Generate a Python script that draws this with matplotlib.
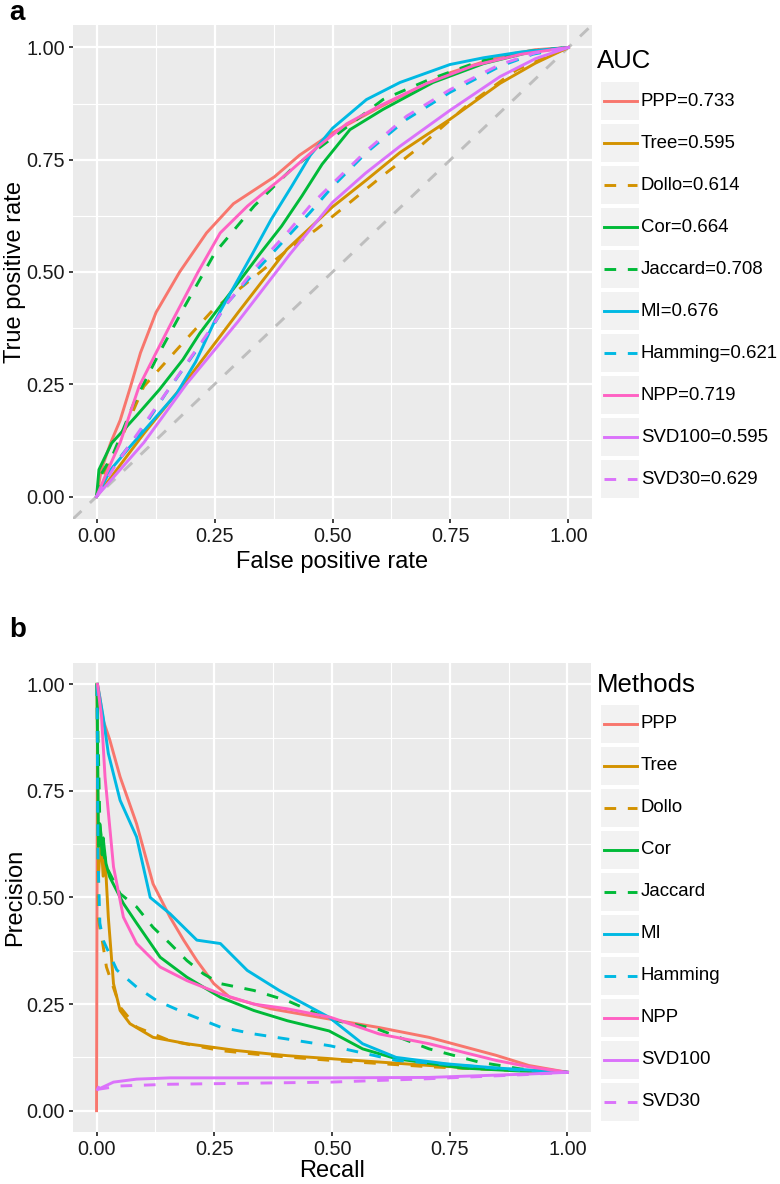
import matplotlib
matplotlib.use("Agg")
import matplotlib.pyplot as plt
from matplotlib.patches import Rectangle

plt.rcParams["font.family"] = ["Liberation Sans", "DejaVu Sans"]

# ---- methods / styles ----
METHODS = ["PPP", "Tree", "Dollo", "Cor", "Jaccard", "MI", "Hamming", "NPP", "SVD100", "SVD30"]
AUC = ["0.733", "0.595", "0.614", "0.664", "0.708", "0.676", "0.621", "0.719", "0.595", "0.629"]
COLORS = ["#F8766D", "#D39200", "#D39200", "#00BA38", "#00BA38",
          "#00B9E3", "#00B9E3", "#FF61C3", "#DB72FB", "#DB72FB"]
DASHED = [False, False, True, False, True, False, True, False, False, True]

# ---- ROC curves ----
PPP_FPR = [0, 0.01, 0.03, 0.05, 0.072, 0.093, 0.126, 0.176, 0.233, 0.29, 0.377, 0.43, 0.5, 0.6, 0.643, 0.75, 0.855, 0.93, 1]
PPP_TPR = [0, 0.06, 0.12, 0.17, 0.245, 0.32, 0.41, 0.50, 0.587, 0.652, 0.712, 0.76, 0.81, 0.867, 0.89, 0.944, 0.98, 0.995, 1]
TREE_FPR = [0, 0.05, 0.1, 0.185, 0.3, 0.403, 0.5, 0.572, 0.643, 0.749, 0.855, 0.93, 1]
TREE_TPR = [0, 0.07, 0.14, 0.25, 0.41, 0.55, 0.645, 0.705, 0.766, 0.84, 0.92, 0.965, 1]
DOLLO_FPR = [0, 0.02, 0.04, 0.1, 0.17, 0.247, 0.3, 0.4, 0.466, 0.537, 0.607, 0.678, 0.784, 0.89, 1]
DOLLO_TPR = [0, 0.06, 0.10, 0.245, 0.327, 0.416, 0.46, 0.545, 0.595, 0.655, 0.715, 0.773, 0.87, 0.95, 1]
COR_FPR = [0, 0.005, 0.032, 0.083, 0.133, 0.183, 0.219, 0.262, 0.305, 0.348, 0.392, 0.435, 0.478, 0.537, 0.607, 0.713, 0.82, 0.92, 1]
COR_TPR = [0, 0.06, 0.119, 0.178, 0.238, 0.305, 0.364, 0.424, 0.483, 0.543, 0.602, 0.669, 0.74, 0.817, 0.862, 0.922, 0.964, 0.99, 1]
JAC_FPR = [0, 0.01, 0.036, 0.079, 0.133, 0.187, 0.251, 0.334, 0.413, 0.47, 0.523, 0.607, 0.706, 0.812, 0.9, 1]
JAC_TPR = [0, 0.05, 0.097, 0.208, 0.32, 0.424, 0.543, 0.647, 0.729, 0.775, 0.817, 0.884, 0.929, 0.969, 0.99, 1]
MI_FPR = [0, 0.03, 0.07, 0.12, 0.17, 0.21, 0.25, 0.29, 0.33, 0.37, 0.413, 0.453, 0.5, 0.572, 0.643, 0.749, 0.82, 0.9, 1]
MI_TPR = [0, 0.06, 0.11, 0.17, 0.23, 0.30, 0.39, 0.465, 0.54, 0.617, 0.69, 0.76, 0.82, 0.884, 0.922, 0.962, 0.977, 0.99, 1]
HAM_FPR = [0, 0.04, 0.1, 0.147, 0.233, 0.277, 0.341, 0.406, 0.452, 0.5, 0.572, 0.657, 0.749, 0.855, 0.925, 1]
HAM_TPR = [0, 0.074, 0.155, 0.23, 0.357, 0.431, 0.506, 0.58, 0.632, 0.69, 0.766, 0.84, 0.9, 0.958, 0.985, 1]
NPP_FPR = [0, 0.02, 0.05, 0.09, 0.126, 0.162, 0.215, 0.262, 0.32, 0.405, 0.47, 0.53, 0.6, 0.7, 0.8, 0.9, 1]
NPP_TPR = [0, 0.05, 0.12, 0.245, 0.32, 0.394, 0.50, 0.587, 0.647, 0.72, 0.78, 0.83, 0.87, 0.92, 0.96, 0.985, 1]
SVD100_FPR = [0, 0.05, 0.1, 0.19, 0.3, 0.41, 0.5, 0.57, 0.643, 0.749, 0.855, 0.93, 1]
SVD100_TPR = [0, 0.06, 0.12, 0.25, 0.39, 0.54, 0.655, 0.72, 0.78, 0.86, 0.935, 0.975, 1]
SVD30_FPR = [0, 0.04, 0.1, 0.15, 0.233, 0.277, 0.341, 0.406, 0.452, 0.5, 0.572, 0.657, 0.749, 0.855, 0.93, 1]
SVD30_TPR = [0, 0.07, 0.16, 0.235, 0.36, 0.43, 0.515, 0.59, 0.647, 0.697, 0.77, 0.847, 0.906, 0.962, 0.988, 1]

# ---- precision-recall curves ----
PPP_REC = [0, 0.002, 0.007, 0.014, 0.028, 0.05, 0.085, 0.12, 0.156, 0.185, 0.213, 0.249, 0.283, 0.37, 0.494, 0.6, 0.706, 0.848, 0.918, 1]
PPP_PREC = [0, 1.0, 0.97, 0.916, 0.87, 0.783, 0.673, 0.532, 0.454, 0.40, 0.352, 0.298, 0.266, 0.239, 0.215, 0.195, 0.172, 0.13, 0.106, 0.09]
TREE_REC = [0.001, 0.004, 0.008, 0.011, 0.014, 0.018, 0.025, 0.036, 0.05, 0.071, 0.12, 0.192, 0.298, 0.405, 0.497, 0.706, 0.85, 1]
TREE_PREC = [1.0, 0.55, 0.62, 0.61, 0.55, 0.595, 0.454, 0.298, 0.235, 0.204, 0.172, 0.157, 0.141, 0.129, 0.122, 0.106, 0.097, 0.09]
DOLLO_REC = [0.001, 0.004, 0.007, 0.012, 0.021, 0.05, 0.085, 0.156, 0.263, 0.369, 0.497, 0.706, 0.85, 1]
DOLLO_PREC = [1.0, 0.45, 0.43, 0.40, 0.337, 0.243, 0.196, 0.164, 0.141, 0.129, 0.118, 0.103, 0.096, 0.09]
COR_REC = [0.001, 0.004, 0.007, 0.012, 0.014, 0.02, 0.028, 0.057, 0.085, 0.135, 0.192, 0.263, 0.334, 0.405, 0.494, 0.565, 0.636, 0.777, 0.9, 1]
COR_PREC = [1.0, 0.62, 0.673, 0.6, 0.64, 0.58, 0.548, 0.486, 0.44, 0.36, 0.313, 0.266, 0.235, 0.211, 0.187, 0.145, 0.122, 0.10, 0.093, 0.09]
JAC_REC = [0.001, 0.007, 0.012, 0.021, 0.05, 0.085, 0.12, 0.156, 0.192, 0.227, 0.263, 0.334, 0.405, 0.494, 0.6, 0.706, 0.812, 0.9, 1]
JAC_PREC = [1.0, 0.673, 0.62, 0.572, 0.509, 0.478, 0.43, 0.392, 0.352, 0.321, 0.298, 0.282, 0.258, 0.215, 0.19, 0.145, 0.114, 0.098, 0.09]
MI_REC = [0.002, 0.014, 0.025, 0.05, 0.085, 0.114, 0.156, 0.213, 0.263, 0.32, 0.388, 0.494, 0.565, 0.636, 0.742, 0.85, 1]
MI_PREC = [1.0, 0.924, 0.838, 0.728, 0.642, 0.50, 0.462, 0.40, 0.392, 0.329, 0.282, 0.219, 0.157, 0.125, 0.11, 0.10, 0.09]
HAM_REC = [0.001, 0.003, 0.007, 0.014, 0.043, 0.085, 0.128, 0.192, 0.263, 0.334, 0.405, 0.497, 0.636, 0.777, 0.9, 1]
HAM_PREC = [1.0, 0.6, 0.44, 0.40, 0.33, 0.29, 0.258, 0.227, 0.196, 0.18, 0.168, 0.152, 0.118, 0.106, 0.095, 0.09]
NPP_REC = [0.002, 0.0106, 0.018, 0.036, 0.057, 0.085, 0.135, 0.192, 0.263, 0.334, 0.405, 0.497, 0.6, 0.706, 0.848, 0.918, 1]
NPP_PREC = [1.0, 0.924, 0.783, 0.572, 0.454, 0.392, 0.337, 0.305, 0.274, 0.25, 0.239, 0.219, 0.18, 0.157, 0.118, 0.103, 0.09]
SVD100_REC = [0.002, 0.004, 0.007, 0.036, 0.085, 0.156, 0.298, 0.497, 0.706, 0.918, 1]
SVD100_PREC = [0.05, 0.055, 0.052, 0.067, 0.074, 0.077, 0.077, 0.077, 0.078, 0.086, 0.09]
SVD30_REC = [0.002, 0.05, 0.156, 0.298, 0.497, 0.706, 0.918, 1]
SVD30_PREC = [0.05, 0.058, 0.062, 0.064, 0.067, 0.075, 0.085, 0.09]

ROC = [(PPP_FPR, PPP_TPR), (TREE_FPR, TREE_TPR), (DOLLO_FPR, DOLLO_TPR), (COR_FPR, COR_TPR),
       (JAC_FPR, JAC_TPR), (MI_FPR, MI_TPR), (HAM_FPR, HAM_TPR), (NPP_FPR, NPP_TPR),
       (SVD100_FPR, SVD100_TPR), (SVD30_FPR, SVD30_TPR)]
PR = [(PPP_REC, PPP_PREC), (TREE_REC, TREE_PREC), (DOLLO_REC, DOLLO_PREC), (COR_REC, COR_PREC),
      (JAC_REC, JAC_PREC), (MI_REC, MI_PREC), (HAM_REC, HAM_PREC), (NPP_REC, NPP_PREC),
      (SVD100_REC, SVD100_PREC), (SVD30_REC, SVD30_PREC)]

TICKS = [0.0, 0.25, 0.5, 0.75, 1.0]
TICK_LABELS = ["0.00", "0.25", "0.50", "0.75", "1.00"]
MINOR = [0.125, 0.375, 0.625, 0.875]

LW = 2.1
DASH = (0, (4, 4))

W, H = 780, 1184
fig = plt.figure(figsize=(W / 100, H / 100), dpi=100)


def gg_axes(rect_px):
    l, t, r, b = rect_px
    ax = fig.add_axes([l / W, 1 - b / H, (r - l) / W, (b - t) / H])
    ax.set_facecolor("#EBEBEB")
    for s in ax.spines.values():
        s.set_visible(False)
    ax.set_xlim(-0.05, 1.05)
    ax.set_ylim(-0.05, 1.05)
    ax.set_xticks(TICKS)
    ax.set_xticklabels(TICK_LABELS)
    ax.set_yticks(TICKS)
    ax.set_yticklabels(TICK_LABELS)
    ax.set_xticks(MINOR, minor=True)
    ax.set_yticks(MINOR, minor=True)
    ax.tick_params(which="major", length=3.2, width=1.3, color="#333333",
                   labelsize=14.3, labelcolor="#1a1a1a", pad=2.5)
    ax.tick_params(which="minor", length=0)
    ax.grid(which="major", color="white", lw=1.6)
    ax.grid(which="minor", color="white", lw=0.8)
    ax.set_axisbelow(True)
    return ax


def draw_curves(ax, data):
    for (x, y), c, d in zip(data, COLORS, DASHED):
        ax.plot(x, y, color=c, lw=LW, ls=DASH if d else "-",
                solid_joinstyle="round", clip_on=True)


# ---- panel a: ROC ----
ax1 = gg_axes((73, 25, 592, 519))
ax1.axline((0, 0), (1, 1), color="#BEBEBE", lw=LW, ls=DASH, zorder=1.5)
draw_curves(ax1, ROC)
ax1.set_xlabel("False positive rate", fontsize=17, labelpad=4)
ax1.set_ylabel("True positive rate", fontsize=17, labelpad=0)

# ---- panel b: precision-recall ----
ax2 = gg_axes((73, 663, 591, 1132))
draw_curves(ax2, PR)
ax2.set_xlabel("Recall", fontsize=17, labelpad=1)
ax2.set_ylabel("Precision", fontsize=17, labelpad=0)

# ---- legends and panel letters (pixel overlay) ----
ov = fig.add_axes([0, 0, 1, 1])
ov.set_xlim(0, W)
ov.set_ylim(H, 0)
ov.axis("off")


def legend(title, labels, title_y, first_y):
    ov.text(597, title_y, title, fontsize=18.5, va="baseline", ha="left")
    for i, (lab, c, d) in enumerate(zip(labels, COLORS, DASHED)):
        yc = first_y + 42 * i
        ov.add_patch(Rectangle((601, yc - 19), 38, 38, facecolor="#F2F2F2", edgecolor="none"))
        ov.plot([604, 637], [yc, yc], color=c, lw=LW, ls=DASH if d else "-")
        ov.text(641, yc, lab, fontsize=13.4, va="center", ha="left")


legend("AUC", [f"{m}={a}" for m, a in zip(METHODS, AUC)], 68, 101)
legend("Methods", METHODS, 692, 724)

ov.text(9, 20, "a", fontsize=20, fontweight="bold", va="baseline")
ov.text(9, 637, "b", fontsize=20, fontweight="bold", va="baseline")

fig.savefig("out.png", dpi=100, facecolor="white")
